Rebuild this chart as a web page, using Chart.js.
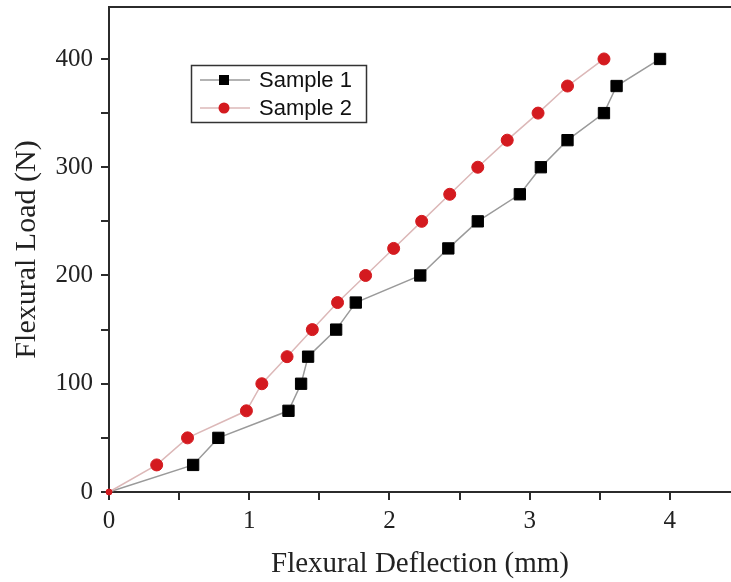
<!DOCTYPE html>
<html>
<head>
<meta charset="utf-8">
<script src="https://cdn.jsdelivr.net/npm/chart.js@4"></script>
<style>
  html, body { margin: 0; padding: 0; background: #fff; }
  #wrap { width: 731px; height: 582px; }
</style>
</head>
<body>
<div id="wrap"><canvas id="chartFlexural" width="731" height="582"></canvas></div>
<script>
// datos
const loadN = [0, 25, 50, 75, 100, 125, 150, 175, 200, 225, 250, 275, 300, 325, 350, 375, 400];
const sample1Defl = [0, 0.60, 0.78, 1.28, 1.37, 1.42, 1.62, 1.76, 2.22, 2.42, 2.63, 2.93, 3.08, 3.27, 3.53, 3.62, 3.93];
const sample2Defl = [0, 0.34, 0.56, 0.98, 1.09, 1.27, 1.45, 1.63, 1.83, 2.03, 2.23, 2.43, 2.63, 2.84, 3.06, 3.27, 3.53];
const seriesNames = ['Sample 1', 'Sample 2'];
// marcas de eje (mayores con etiqueta, menores sin)
const xTickMarks = [0, 0.5, 1, 1.5, 2, 2.5, 3, 3.5, 4];
const xTickLabels = [0, 1, 2, 3, 4];
const yTickMarks = [0, 50, 100, 150, 200, 250, 300, 350, 400];
const yTickLabels = [0, 100, 200, 300, 400];

const axisColor = '#2b2b2b';
const serif = '"Liberation Serif", "Times New Roman", serif';

function toPoints(xs, ys) {
    return xs.map((x, i) => ({ x: x, y: ys[i] }));
}

// marco superior + leyenda dentro del area
const framePlugin = {
    id: 'framePlugin',
    afterDraw(chart) {
        const { ctx, chartArea } = chart;
        ctx.save();
        ctx.strokeStyle = axisColor;
        ctx.lineWidth = 2;
        ctx.beginPath();
        ctx.moveTo(chartArea.left - 1, chartArea.top);
        ctx.lineTo(chartArea.right, chartArea.top);
        ctx.stroke();

        // leyenda
        const bx = 191.5, by = 65.5, bw = 175, bh = 57;
        ctx.lineWidth = 1.5;
        ctx.strokeStyle = '#333';
        ctx.strokeRect(bx, by, bw, bh);
        const rows = [80, 108];
        chart.data.datasets.forEach((ds, i) => {
            const cy = rows[i];
            ctx.strokeStyle = ds.borderColor;
            ctx.lineWidth = 1.5;
            ctx.beginPath();
            ctx.moveTo(200, cy);
            ctx.lineTo(250, cy);
            ctx.stroke();
            ctx.fillStyle = ds.pointBackgroundColor;
            if (ds.pointStyle === 'rect') {
                ctx.fillRect(219, cy - 5, 10, 10);
            } else {
                ctx.beginPath();
                ctx.arc(224, cy, 5.5, 0, Math.PI * 2);
                ctx.fill();
            }
            ctx.fillStyle = '#111';
            ctx.font = '22px "Liberation Sans", Arial, sans-serif';
            ctx.textBaseline = 'middle';
            ctx.textAlign = 'left';
            ctx.fillText(ds.label, 259, cy + 1);
        });
        ctx.restore();
    }
};

const ctx = document.getElementById('chartFlexural');
const chart = new Chart(ctx, {
    type: 'line',
    data: {
        datasets: [{
            label: seriesNames[0],
            data: toPoints(sample1Defl, loadN),
            borderColor: '#9a9a9a',
            borderWidth: 1.5,
            pointStyle: 'rect',
            pointBackgroundColor: '#000',
            pointBorderColor: '#000',
            pointBorderWidth: 1,
            pointRadius: c => c.dataIndex === 0 ? 2 : 8,
            clip: false,
            order: 2
        }, {
            label: seriesNames[1],
            data: toPoints(sample2Defl, loadN),
            borderColor: '#dcb8b8',
            borderWidth: 1.5,
            pointStyle: 'circle',
            pointBackgroundColor: '#d41a1f',
            pointBorderColor: '#d41a1f',
            pointBorderWidth: 1,
            pointRadius: c => c.dataIndex === 0 ? 3 : 6,
            clip: false,
            order: 1
        }]
    },
    options: {
        responsive: false,
        animation: false,
        layout: { autoPadding: false, padding: { top: 7, right: 0, left: 0, bottom: 0 } },
        plugins: {
            legend: { display: false },
            tooltip: { enabled: false }
        },
        scales: {
            x: {
                type: 'linear',
                min: 0,
                max: 4.436,
                afterFit: s => {
                    s.height = 90;
                    s.paddingLeft = 0;
                    s.paddingRight = 0;
                },
                afterBuildTicks: s => {
                    s.ticks = xTickMarks.map(v => ({ value: v }));
                },
                ticks: {
                    autoSkip: false,
                    includeBounds: false,
                    maxRotation: 0,
                    padding: 6,
                    color: '#222',
                    font: { family: serif, size: 25 },
                    callback: v => xTickLabels.includes(v) ? String(v) : ''
                },
                grid: { drawOnChartArea: false, drawTicks: true, tickLength: 8, color: axisColor, lineWidth: 2 },
                border: { display: true, color: axisColor, width: 2 },
                title: {
                    display: true,
                    text: 'Flexural Deflection (mm)',
                    color: '#222',
                    font: { family: serif, size: 29 },
                    padding: { top: 0, bottom: 0 }
                }
            },
            y: {
                type: 'linear',
                min: 0,
                max: 448,
                afterFit: s => {
                    s.width = 109;
                    s.paddingTop = 0;
                    s.paddingBottom = 0;
                },
                afterBuildTicks: s => {
                    s.ticks = yTickMarks.map(v => ({ value: v }));
                },
                ticks: {
                    autoSkip: false,
                    includeBounds: false,
                    padding: 8,
                    color: '#222',
                    font: { family: serif, size: 25 },
                    callback: v => yTickLabels.includes(v) ? String(v) : ''
                },
                grid: { drawOnChartArea: false, drawTicks: true, tickLength: 8, color: axisColor, lineWidth: 2 },
                border: { display: true, color: axisColor, width: 2 },
                title: {
                    display: true,
                    text: 'Flexural Load (N)',
                    color: '#222',
                    font: { family: serif, size: 30 },
                    padding: { top: 9, bottom: 0 }
                }
            }
        }
    },
    plugins: [framePlugin]
});
</script>
</body>
</html>
